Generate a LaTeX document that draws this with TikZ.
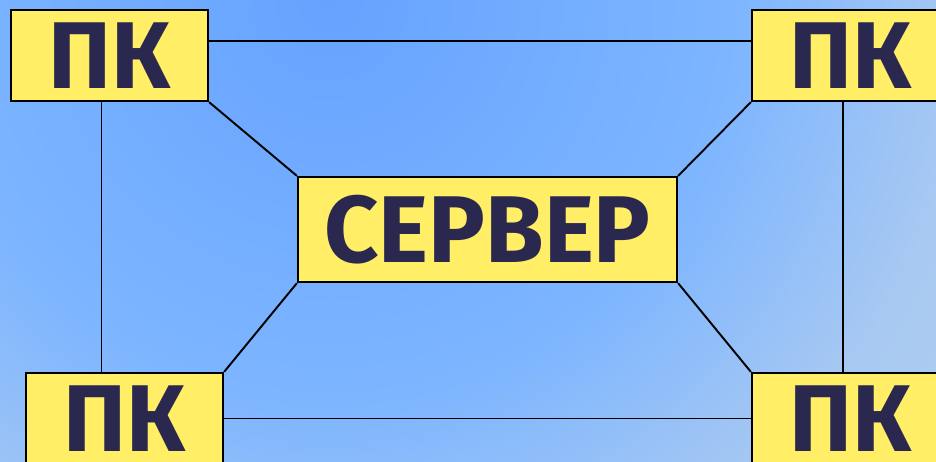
\documentclass[tikz,border=0pt]{standalone}
\usepackage{fontspec}
\setmainfont{Fira Sans}
\usetikzlibrary{calc}

\definecolor{BgDark}{HTML}{66A3FF}
\definecolor{BgMid}{HTML}{7DB5FF}
\definecolor{BgSide}{HTML}{A8C9F2}
\definecolor{BgLight}{HTML}{B0CDEE}
\definecolor{BoxFill}{HTML}{FFEE66}
\definecolor{LabelText}{HTML}{2B2850}

% 25bp corresponde al radio del circulo sombreado
\pgfdeclareradialshading{BackgroundGlow}{\pgfpoint{0bp}{0bp}}{%
  color(0bp)=(BgDark); color(10bp)=(BgMid); color(16bp)=(BgSide);
  color(20bp)=(BgLight); color(50bp)=(BgLight)}

\tikzset{
  box/.style={draw, line width=1.3pt, fill=BoxFill, text=LabelText,
    inner sep=0pt, font=\fontsize{54}{60}\selectfont\bfseries},
  pc/.style={box, minimum width=3.94cm, minimum height=1.82cm},
  server/.style={box, minimum width=7.58cm, minimum height=2.1cm},
  link/.style={line width=1.1pt},
}

\begin{document}
\begin{tikzpicture}[x=0.02cm, y=-0.02cm]

% Fondo degradado
\clip (0,0) rectangle (936,461);
\fill[BgLight] (0,0) rectangle (936,461);
\shade[shading=BackgroundGlow] (330,0) circle (20cm);

% Computadoras y servidor
\node[pc] (pcTL) at (109.5,55.5) {ПК};
\node[pc] (pcTR) at (850.5,55.5) {ПК};
\node[pc] (pcBL) at (124.5,418.5) {ПК};
\node[pc] (pcBR) at (850.5,418.5) {ПК};
\node[server] (server) at (487.5,229.5) {СЕРВЕР};

% Puntos de salida de las lineas
\coordinate (T) at ($(pcTL.north east)!0.34!(pcTL.south east)$);
\coordinate (L) at ($(pcTL.south west)!0.46!(pcTL.south east)$);
\coordinate (R) at ($(pcTR.south west)!0.46!(pcTR.south east)$);

% Anillo exterior
\draw[link] (T) -- (T -| pcTR.west);
\draw[link] (pcBL.east) -- (pcBR.west);
\draw[link] (L) -- (L |- pcBL.north);
\draw[link] (R) -- (R |- pcBR.north);

% Diagonales hacia el servidor
\draw[link] (pcTL.south east) -- (server.north west);
\draw[link] (pcTR.south west) -- (server.north east);
\draw[link] (pcBL.north east) -- (server.south west);
\draw[link] (pcBR.north west) -- (server.south east);

\end{tikzpicture}
\end{document}
